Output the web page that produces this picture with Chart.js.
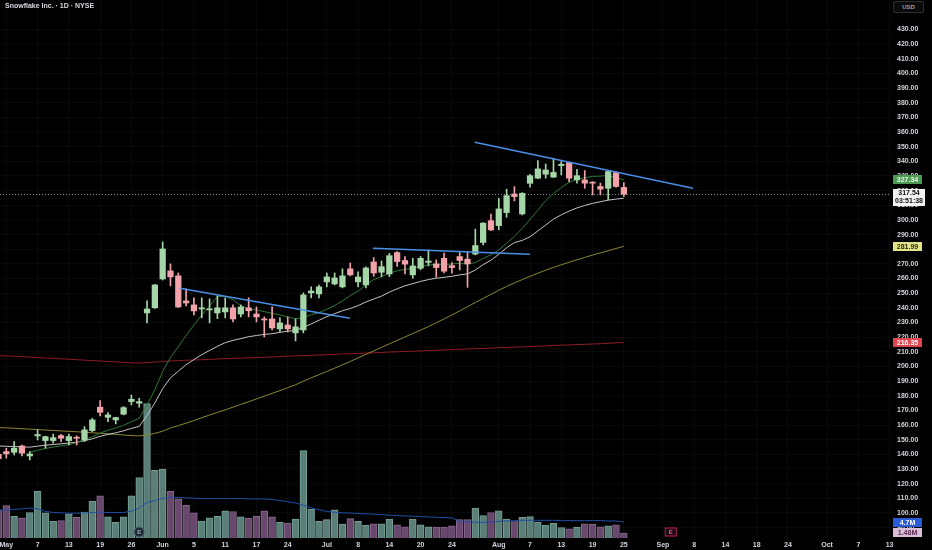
<!DOCTYPE html>
<html><head><meta charset="utf-8">
<script src="https://cdn.jsdelivr.net/npm/chart.js@4.4.1/dist/chart.umd.min.js"></script>
<style>
html,body{margin:0;padding:0;background:#000;}
#wrap{position:relative;width:932px;height:550px;background:#000;overflow:hidden;}
#c{position:absolute;left:0;top:0;}
#title{position:absolute;left:5px;top:2px;font:bold 7px "Liberation Sans",Arial,sans-serif;color:#d8dae0;white-space:nowrap;}
#usd{position:absolute;left:893px;top:1px;width:31px;height:12px;border:1px solid #2e2e2e;border-radius:2px;box-sizing:border-box;font:bold 6px "Liberation Sans",Arial,sans-serif;color:#a0a0a0;text-align:center;line-height:10px;background:#0b0b0b;}
</style></head><body>
<div id="wrap"><canvas id="c" width="932" height="550"></canvas>
<div id="title">Snowflake Inc. · 1D · NYSE</div><div id="usd">USD</div></div>
<script>
// ---- data ----
const opens  = [140.0,141.9,141.4,145.7,138.9,152.6,149.4,149.4,152.8,149.4,151.4,149.8,156.2,172.2,165.3,163.5,167.4,176.0,174.9,236.5,240.0,259.7,265.2,261.8,244.7,242.0,239.2,238.6,236.5,237.2,240.0,235.8,240.0,235.8,232.4,232.4,225.6,228.3,222.9,224.9,250.2,249.5,257.7,256.3,254.3,266.6,257.7,255.6,271.3,264.3,263.1,277.7,272.3,262.5,267.0,271.0,270.0,273.8,268.8,275.0,273.2,276.7,284.6,299.5,296.1,305.0,317.7,304.1,325.0,328.5,331.2,329.2,337.1,339.1,327.3,327.3,325.7,322.8,321.6,332.3,322.2];
const highs  = [141.5,144.2,148.7,146.4,141.9,156.7,152.4,153.9,153.7,153.9,152.6,158.9,164.6,176.7,168.5,165.3,172.6,180.5,178.3,244.7,256.0,285.0,270.0,263.8,252.9,246.8,246.8,246.1,248.1,246.8,242.0,242.0,246.8,240.6,233.8,240.6,233.1,233.8,232.4,250.2,254.3,255.6,263.8,263.8,266.6,270.6,264.5,268.0,274.3,272.0,277.2,278.4,275.0,273.8,275.0,279.5,272.7,277.3,270.8,277.7,278.4,293.7,298.2,303.9,314.8,321.0,322.7,318.6,331.2,340.5,338.2,342.1,339.8,339.4,334.6,333.7,326.1,325.1,333.3,333.0,325.5];
const lows   = [135.5,137.4,139.6,139.0,136.2,149.8,144.2,147.6,148.7,146.4,146.4,148.7,155.5,166.2,162.3,160.8,166.9,173.7,172.2,229.7,239.6,259.0,255.0,240.2,241.3,235.2,233.1,229.7,232.6,233.1,230.4,233.8,233.8,230.4,220.1,224.9,223.5,223.5,217.4,222.9,246.8,246.8,254.3,255.6,253.6,261.8,254.3,253.6,261.5,261.3,261.3,268.2,263.1,260.2,266.0,268.6,260.9,263.9,263.6,265.9,254.0,276.1,282.9,292.7,293.2,301.8,313.0,303.4,322.3,328.2,328.5,329.0,330.7,326.1,325.1,321.6,317.0,317.0,313.7,322.4,316.0];
const closes = [137.0,140.3,144.2,140.8,140.3,153.5,152.1,151.4,151.0,152.1,151.0,156.7,163.5,168.7,166.9,165.1,171.9,177.6,176.0,239.2,255.6,280.2,261.1,240.6,243.3,237.9,240.0,239.2,240.0,240.0,232.4,240.6,238.0,233.8,231.7,226.3,229.7,225.6,227.0,248.8,251.5,254.3,261.1,260.4,261.8,262.5,261.1,267.2,263.8,268.1,275.6,271.6,269.8,268.6,273.8,271.9,267.5,265.0,267.5,272.3,270.0,282.5,297.8,293.2,307.5,316.6,315.9,318.2,330.2,334.8,334.1,332.4,338.0,328.5,330.2,325.1,325.1,321.0,333.0,322.8,317.54];
// volume in millions
const volumes = [8.3,9.5,6.4,5.9,7.5,13.7,7.4,4.9,5.1,7.1,6.1,7.6,10.8,12.4,6.2,4.6,6.2,12.4,17.8,39.5,19.9,20.3,13.7,11.5,9.6,7.4,5.0,5.9,6.4,8.0,7.8,6.2,5.8,6.4,8.0,6.2,4.6,4.4,5.6,25.7,8.5,4.9,5.4,8.3,4.1,5.7,4.9,3.7,4.2,4.2,5.6,3.9,3.3,5.6,3.9,3.3,3.2,3.2,3.6,5.4,5.4,8.8,6.6,7.5,8.0,5.6,4.8,6.1,6.3,4.7,3.8,4.3,3.1,2.7,3.2,4.2,4.0,3.3,3.6,3.9,1.48];
const volMA = [8.1,8.3,8.4,8.6,8.8,8.6,7.8,7.5,7.4,7.3,7.3,7.35,7.5,7.6,7.5,7.5,7.5,7.9,8.8,10.5,11.0,11.6,11.9,11.9,11.8,11.7,11.6,11.6,11.6,11.6,11.6,11.6,11.5,11.5,11.5,11.3,11.0,10.7,10.3,9.6,8.9,8.3,7.8,7.6,7.4,7.35,7.2,7.1,7.0,6.9,6.7,6.6,6.5,6.4,6.3,6.2,6.1,6.0,5.9,4.9,4.8,4.6,4.6,4.7,4.9,5.0,5.1,5.2,5.2,5.2,5.2,5.2,5.1,5.1,5.1,5.1,5.1,5.1,5.0,5.0,4.7];
const maFast = [null,null,null,null,141.4,142.8,144.0,145.0,145.8,146.6,148.0,150.0,152.0,154.5,156.5,158.0,159.8,162.3,164.6,173.7,184.1,196.5,206.2,213.4,221.1,228.3,235.2,241.3,247.7,247.8,245.5,241.5,239.2,238.5,237.4,236.2,235.2,233.8,232.5,233.4,235.3,236.7,239.0,241.6,244.7,248.3,251.4,255.6,259.3,261.2,263.6,265.3,266.2,267.0,268.2,269.2,269.8,269.6,269.9,270.4,269.8,270.9,273.7,276.2,279.5,284.0,288.8,294.2,300.4,306.7,313.1,318.1,322.1,325.6,327.9,328.7,329.7,329.9,330.2,329.0,327.34];
const maMid = [145.7,145.5,145.3,145.1,144.9,145.6,146.2,146.7,147.2,147.7,148.3,149.3,150.6,152.3,153.6,154.7,156.1,157.7,159.1,166.6,175.0,184.9,192.2,196.8,201.2,204.7,208.0,210.9,213.7,216.2,217.8,219.0,220.3,221.1,221.9,222.3,223.3,224.0,224.7,226.6,229.0,231.5,234.0,236.0,238.0,239.5,241.5,244.0,246.0,248.0,250.7,253.0,255.0,256.5,258.0,259.3,260.2,260.8,261.5,262.5,263.2,265.8,269.5,272.5,276.5,281.0,284.5,286.0,288.5,292.5,296.5,300.5,303.5,306.0,308.2,309.8,311.3,312.4,313.5,314.2,314.8];
const maSlow = [158.3,158.1,157.8,157.5,157.2,156.9,156.6,156.3,156.0,155.7,155.4,155.1,154.7,154.4,154.0,153.6,153.2,152.8,152.6,153.2,154.3,155.8,158.0,159.6,161.3,163.1,165.0,166.8,168.6,170.4,172.2,174.1,175.9,177.8,179.7,181.6,183.5,185.5,187.5,189.9,192.2,194.4,196.6,198.8,201.1,203.4,205.8,208.2,210.6,213.0,215.4,217.8,220.1,222.5,224.8,227.2,229.8,232.4,235.1,237.9,240.8,243.6,246.4,249.2,252.0,254.6,257.0,259.3,261.5,263.6,265.7,267.6,269.4,271.1,272.8,274.4,276.0,277.5,279.0,280.5,281.99];
const maLong = [207.4,207.2,207.0,206.7,206.4,206.1,205.8,205.5,205.2,204.9,204.6,204.3,204.0,203.7,203.4,203.1,202.8,202.5,202.3,202.6,203.0,203.4,203.7,204.0,204.2,204.4,204.6,204.8,205.1,205.3,205.5,205.7,205.9,206.1,206.3,206.5,206.8,207.0,207.2,207.4,207.6,207.8,208.0,208.3,208.5,208.7,208.9,209.1,209.3,209.5,209.8,210.0,210.2,210.4,210.6,210.8,211.0,211.3,211.5,211.7,211.9,212.1,212.3,212.5,212.8,213.0,213.2,213.4,213.6,213.8,214.0,214.3,214.5,214.7,214.9,215.1,215.3,215.5,215.8,216.1,216.35];
// drawn trend lines: [bar index, price]
const trendAx = [23.2, 44.95], trendAy = [253.4, 232.9];
const trendBx = [47.9, 67.97], trendBy = [280.7, 276.6];
const trendCx = [60.93, 88.85], trendCy = [353.0, 321.6];
// axis ticks
const xTickPos    = [1,5,9,13,17,21,25,29,33,37,42,46,50,54,58,64,68,72,76,80,85,89,93,97,101,106,110,114];
const xTickLabels = ['May','7','13','19','26','Jun','5','11','17','24','Jul','8','14','20','24','Aug','7','13','19','25','Sep','8','14','18','24','Oct','7','13'];
const priceTicks  = [90,100,110,120,130,140,150,160,170,180,190,200,210,220,230,240,250,260,270,280,290,300,310,320,330,340,350,360,370,380,390,400,410,420,430];
const countdown = '03:51:38';
const pastEarningsIdx = 18, futureEarningsIdx = 86;

// ---- view / style ----
const X_MIN = 0.19, X_MAX = 114.05, Y_MIN = 82.9, Y_MAX = 450.1, V_MAX = 158.2;
const GREEN = '#a5d6a7', RED = '#f2a3aa';
const VOL_UP = '#5b7f78', VOL_UP_B = '#76a096', VOL_DN = '#68486c', VOL_DN_B = '#8a6690';
const FONT = '"Liberation Sans", Arial, sans-serif';

const idx = closes.map((_, i) => i);
const isUp = i => closes[i] >= opens[i];
const pts = arr => arr.map((v, i) => ({x: i, y: v}));
const pair = (xs, ys) => xs.map((x, i) => ({x: x, y: ys[i]}));
const lineDs = (data, color, order, width, axis) => ({
  type: 'line', data, borderColor: color, borderWidth: width || 1, pointRadius: 0,
  fill: false, tension: 0, order, yAxisID: axis || 'y'
});

function tag(ctx, yc, text, bg, fg) {
  const x = 893, w = 29, h = 9;
  ctx.fillStyle = bg;
  ctx.fillRect(x, Math.round(yc - h / 2), w, h);
  ctx.fillStyle = fg;
  ctx.font = 'bold 7px ' + FONT;
  ctx.textAlign = 'center'; ctx.textBaseline = 'middle';
  ctx.fillText(text, x + w / 2, Math.round(yc - h / 2) + h / 2 + 0.5);
}

const overlay = {
  id: 'overlay',
  beforeDatasetsDraw(chart) {
    const {ctx, chartArea, scales} = chart;
    const y = Math.round(scales.y.getPixelForValue(closes[closes.length - 1])) + 0.5;
    ctx.save();
    ctx.strokeStyle = '#8a8a8a'; ctx.lineWidth = 1; ctx.setLineDash([1, 2]);
    ctx.beginPath(); ctx.moveTo(chartArea.left, y); ctx.lineTo(chartArea.right, y); ctx.stroke();
    ctx.restore();
  },
  afterDraw(chart) {
    const {ctx, chartArea, scales} = chart;
    ctx.save();
    // earnings markers
    const by = chartArea.bottom - 6;
    const px = scales.x.getPixelForValue(pastEarningsIdx);
    ctx.beginPath(); ctx.arc(px, by, 5, 0, Math.PI * 2);
    ctx.fillStyle = '#1e2a33'; ctx.fill();
    ctx.strokeStyle = '#4f6472'; ctx.lineWidth = 1; ctx.stroke();
    ctx.fillStyle = '#9fb3c0'; ctx.font = 'bold 6px ' + FONT;
    ctx.textAlign = 'center'; ctx.textBaseline = 'middle'; ctx.fillText('E', px, by + 0.5);
    const fx = scales.x.getPixelForValue(futureEarningsIdx);
    ctx.fillStyle = '#1a0b12'; ctx.fillRect(fx - 6, by - 4.5, 12, 9);
    ctx.strokeStyle = '#c2185b'; ctx.strokeRect(fx - 5.5, by - 4, 11, 8);
    ctx.fillStyle = '#f06292'; ctx.fillText('E', fx, by + 0.5);
    // price-scale tags
    const n = closes.length - 1;
    tag(ctx, scales.y.getPixelForValue(maFast[n]), maFast[n].toFixed(2), '#4c9a52', '#e8f5e9');
    tag(ctx, scales.y.getPixelForValue(maSlow[n]), maSlow[n].toFixed(2), '#e3e38a', '#2a2a10');
    tag(ctx, scales.y.getPixelForValue(maLong[n]), maLong[n].toFixed(2), '#e0454f', '#ffffff');
    // current price with countdown
    const cy = scales.y.getPixelForValue(closes[n]);
    ctx.fillStyle = '#f2f2f2';
    ctx.fillRect(893, Math.round(cy - 5), 32, 17);
    ctx.fillStyle = '#111'; ctx.font = 'bold 7px ' + FONT;
    ctx.textAlign = 'center'; ctx.textBaseline = 'middle';
    ctx.fillText(closes[n].toFixed(2), 909, Math.round(cy - 5) + 4.5);
    ctx.fillText(countdown, 909, Math.round(cy - 5) + 12.5);
    // volume tags
    tag(ctx, scales.yv.getPixelForValue(volMA[n]), volMA[n].toFixed(1) + 'M', '#2a5bd7', '#ffffff');
    tag(ctx, scales.yv.getPixelForValue(volumes[n]), volumes[n].toFixed(2) + 'M', '#d9bfd6', '#5a2650');
    ctx.restore();
  }
};

new Chart(document.getElementById('c'), {
  type: 'bar',
  data: {
    datasets: [
      lineDs(pair(trendAx, trendAy), '#4a8fe7', 0, 1.5),
      lineDs(pair(trendBx, trendBy), '#4a8fe7', 0, 1.5),
      lineDs(pair(trendCx, trendCy), '#4a8fe7', 0, 1.5),
      { type: 'bar', order: 1, yAxisID: 'y', grouped: false, barThickness: 5.6, minBarLength: 1,
        data: idx.map(i => ({x: i, y: [opens[i], closes[i]]})),
        backgroundColor: idx.map(i => isUp(i) ? GREEN : RED), borderWidth: 0 },
      { type: 'bar', order: 2, yAxisID: 'y', grouped: false, barThickness: 1,
        data: idx.map(i => ({x: i, y: [lows[i], highs[i]]})),
        backgroundColor: idx.map(i => isUp(i) ? GREEN : RED), borderWidth: 0 },
      lineDs(pts(maFast), '#2f7a35', 3, 1),
      lineDs(pts(maMid), '#c4c4c4', 4, 1),
      lineDs(pts(maSlow), '#8d8634', 5, 1),
      lineDs(pts(maLong), '#8e1b26', 6, 1),
      lineDs(pts(volMA), '#1f4fa8', 7, 1, 'yv'),
      { type: 'bar', order: 8, yAxisID: 'yv', grouped: false, barThickness: 6.8,
        data: idx.map(i => ({x: i, y: volumes[i]})),
        backgroundColor: idx.map(i => isUp(i) ? VOL_UP : VOL_DN),
        borderColor: idx.map(i => isUp(i) ? VOL_UP_B : VOL_DN_B), borderWidth: 1 }
    ]
  },
  options: {
    responsive: false, animation: false, events: [],
    layout: { padding: 0 },
    plugins: { legend: { display: false }, tooltip: { enabled: false }, title: { display: false } },
    scales: {
      x: {
        type: 'linear', min: X_MIN, max: X_MAX, bounds: 'data', offset: false, position: 'bottom',
        grid: { color: 'rgba(255,255,255,0.035)', drawTicks: false, offset: false },
        border: { display: false },
        afterBuildTicks: s => { s.ticks = xTickPos.map(v => ({value: v})); },
        afterFit: s => { s.height = 12; s.paddingLeft = 0; s.paddingRight = 0; },
        ticks: { autoSkip: false, maxRotation: 0, padding: 3, color: '#d1d4dc',
                 font: { family: FONT, size: 7, weight: 'bold' },
                 callback: (v, i) => xTickLabels[i] }
      },
      y: {
        type: 'linear', position: 'right', min: Y_MIN, max: Y_MAX, bounds: 'data',
        grid: { color: 'rgba(255,255,255,0.035)', drawTicks: false },
        border: { display: false },
        afterBuildTicks: s => { s.ticks = priceTicks.map(v => ({value: v})); },
        afterFit: s => { s.width = 42; s.paddingTop = 0; s.paddingBottom = 0; },
        ticks: { crossAlign: 'near', padding: 7, color: '#d1d4dc',
                 font: { family: FONT, size: 7, weight: 'bold' },
                 callback: v => Number(v).toFixed(2) }
      },
      yv: { type: 'linear', display: false, min: 0, max: V_MAX, bounds: 'data' }
    }
  },
  plugins: [overlay]
});
</script></body></html>
